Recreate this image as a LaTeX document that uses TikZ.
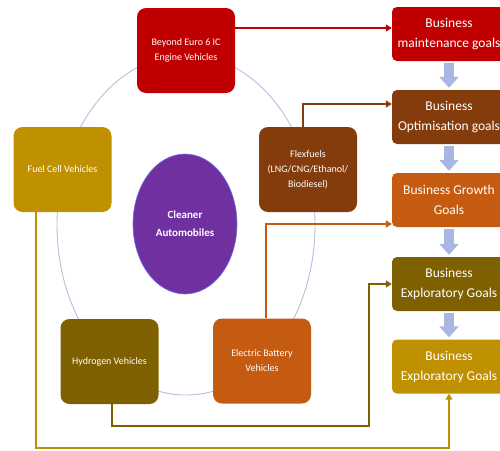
\documentclass[tikz,border=0pt]{standalone}
\usepackage{fontspec}
\setmainfont{Carlito}
\usetikzlibrary{arrows.meta,calc,shapes.geometric}
\definecolor{cRed}{HTML}{C00000}
\definecolor{cBrown}{HTML}{843C0C}
\definecolor{cOrange}{HTML}{C55A11}
\definecolor{cOlive}{HTML}{7F6000}
\definecolor{cGold}{HTML}{BF9000}
\definecolor{cPurple}{HTML}{7030A0}
\definecolor{cRing}{HTML}{B4BEE0}
\definecolor{cFlow}{HTML}{A9B6E2}
\begin{document}
\begin{tikzpicture}[x=1pt,y=-1pt,
  tech/.style={rounded corners=9pt, text=white, align=center, inner sep=0pt,
    minimum width=98pt, minimum height=85pt, font=\fontsize{10}{15}\selectfont},
  goal/.style={rounded corners=5pt, text=white, align=center, inner sep=0pt,
    minimum width=114pt, minimum height=54pt, font=\fontsize{13.5}{20}\selectfont},
  link/.style={line width=2pt, -{Triangle[width=7pt,length=6pt]}},
  flow/.style={cFlow, line width=10pt, -{Triangle[width=19pt,length=11pt]},
    shorten <=2pt, shorten >=2pt}]
\useasboundingbox (0,0) rectangle (500,450);
\clip (0,0) rectangle (500,450);

% ring of technologies
\draw[cRing, line width=0.9pt] (186,225) ellipse [x radius=129, y radius=170];

% technology boxes
\node[tech, fill=cRed] (euro) at (186,50.5) {Beyond Euro 6 IC\\Engine Vehicles};
\node[tech, fill=cGold] (fuel) at (62.5,169.5) {Fuel Cell Vehicles};
\node[tech, fill=cBrown] (flex) at (308,169.5) {Flexfuels\\(LNG/CNG/Ethanol/\\Biodiesel)};
\node[tech, fill=cOlive] (hydro) at (109.5,361.5) {Hydrogen Vehicles};
\node[tech, fill=cOrange] (elec) at (262,361) {Electric Battery\\Vehicles};

% centre
\node[ellipse, fill=cPurple, draw=cRing!60!blue, line width=0.6pt, inner sep=0pt,
  minimum width=104pt, minimum height=140pt, text=white, align=center,
  font=\fontsize{11}{18}\selectfont\bfseries] (core) at (185,224) {Cleaner\\Automobiles};

% goal boxes
\node[goal, fill=cRed] (maint) at (449,34) {Business\\maintenance goals};
\node[goal, fill=cBrown] (optim) at (449,117) {Business\\Optimisation goals};
\node[goal, fill=cOrange] (growth) at (449,200) {Business Growth\\Goals};
\node[goal, fill=cOlive] (explA) at (449,284) {Business\\Exploratory Goals};
\node[goal, fill=cGold] (explB) at (449,366.5) {Business\\Exploratory Goals};

% progression between goals
\draw[flow] (maint.south) -- (optim.north);
\draw[flow] (optim.south) -- (growth.north);
\draw[flow] (growth.south) -- (explA.north);
\draw[flow] (explA.south) -- (explB.north);

% connectors
\coordinate (rA) at (0,28);
\coordinate (fA) at (303,104);
\coordinate (eA) at (266,224);
\coordinate (hA) at (112,426);
\coordinate (hB) at (369,284);
\coordinate (gA) at (36,448);
\draw[link, cRed] (euro.east |- rA) -- (maint.west |- rA);
\draw[link, cBrown] (flex.north -| fA) -- (fA) -- (optim.west |- fA);
\draw[link, cOrange] (elec.north -| eA) -- (eA) -- (growth.west |- eA);
\draw[link, cOlive] (hydro.south -| hA) -- (hA) -- (hA -| hB) -- (hB) -- (explA.west |- hB);
\draw[link, cGold] (fuel.south -| gA) -- (gA) -- (gA -| explB.south) -- (explB.south);
\end{tikzpicture}
\end{document}
